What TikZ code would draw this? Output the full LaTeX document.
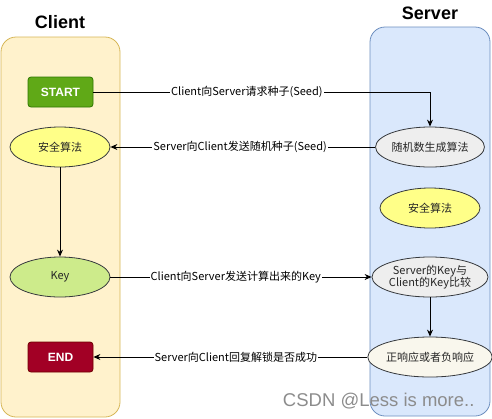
\documentclass[tikz,border=0pt]{standalone}
\usepackage{fontspec}
\setmainfont{Noto Sans CJK SC}
\newfontfamily\wmfont{Liberation Sans}
\usetikzlibrary{shapes.geometric,arrows.meta}
\definecolor{clientfill}{HTML}{FFF2CC}
\definecolor{clientline}{HTML}{D6B656}
\definecolor{serverfill}{HTML}{DAE8FC}
\definecolor{serverline}{HTML}{6C8EBF}
\definecolor{startfill}{HTML}{60A917}
\definecolor{startline}{HTML}{2D7600}
\definecolor{endfill}{HTML}{A20025}
\definecolor{endline}{HTML}{6F0000}
\definecolor{yelfill}{HTML}{FFFF88}
\definecolor{elline}{HTML}{36393D}
\definecolor{keyfill}{HTML}{CDEB8B}
\definecolor{grayfill}{HTML}{EEEEEE}
\definecolor{creamfill}{HTML}{F9F7ED}
\tikzset{
  lane/.style={draw, rounded corners=15pt, line width=0.8pt},
  title/.style={font=\wmfont\fontsize{18}{20}\selectfont\bfseries},
  ell/.style={ellipse, draw=elline, line width=0.8pt, minimum width=100pt, minimum height=40pt, inner sep=0pt, align=center, font=\fontsize{11}{13}\selectfont, text=black!85},
  box/.style={rectangle, rounded corners=3pt, line width=0.8pt, minimum width=65pt, minimum height=30pt, inner sep=0pt, text=white, font=\wmfont\fontsize{12}{14}\selectfont\bfseries},
  lbl/.style={fill=white, inner sep=1pt, font=\fontsize{11}{12}\selectfont},
  conn/.style={line width=0.9pt, -{Stealth[length=7pt,width=6pt]}},
}
\begin{document}
\begin{tikzpicture}[x=1pt,y=-1pt]
\useasboundingbox (0,0) rectangle (492,418);
% lanes
\draw[lane, fill=clientfill, draw=clientline] (1,37) rectangle (120,417);
\draw[lane, fill=serverfill, draw=serverline] (370,27) rectangle (490,416);
\node[title] (ct) at (60,22) {Client};
\node[title] (st) at (430,13) {Server};
% client nodes
\node[box, fill=startfill, draw=startline] (start) at (60.5,92) {START};
\node[ell, fill=yelfill] (calg) at (60,147) {安全算法};
\node[ell, fill=keyfill] (key) at (60,277) {Key};
\node[box, fill=endfill, draw=endline] (end) at (60.5,357) {END};
% server nodes
\node[ell, fill=grayfill] (rng) at (430,147) {随机数生成算法};
\node[ell, fill=yelfill] (salg) at (430,208) {安全算法};
\node[ell, fill=grayfill, font=\fontsize{11}{12}\selectfont] (cmp) at (430,277) {Server的Key与\\Client的Key比较};
\node[ell, fill=creamfill] (resp) at (430,357) {正响应或者负响应};
% connectors
\draw[conn] (start.east) -| (rng.north) node[lbl, pos=0.228] {Client向Server请求种子(Seed)};
\draw[conn] (rng.west) -- (calg.east) node[lbl, pos=0.51] {Server向Client发送随机种子(Seed)};
\draw[conn] (calg.south) -- (key.north);
\draw[conn] (key.east) -- (cmp.west) node[lbl, pos=0.48] {Client向Server发送计算出来的Key};
\draw[conn] (cmp.south) -- (resp.north);
\draw[conn] (resp.west) -- (end.east) node[lbl, pos=0.48] {Server向Client回复解锁是否成功};
% watermark
\node[font=\wmfont\fontsize{18.5}{20}\selectfont, text=black!45, anchor=east] (wm) at (478,401) {CSDN @Less is more..};
\end{tikzpicture}
\end{document}
